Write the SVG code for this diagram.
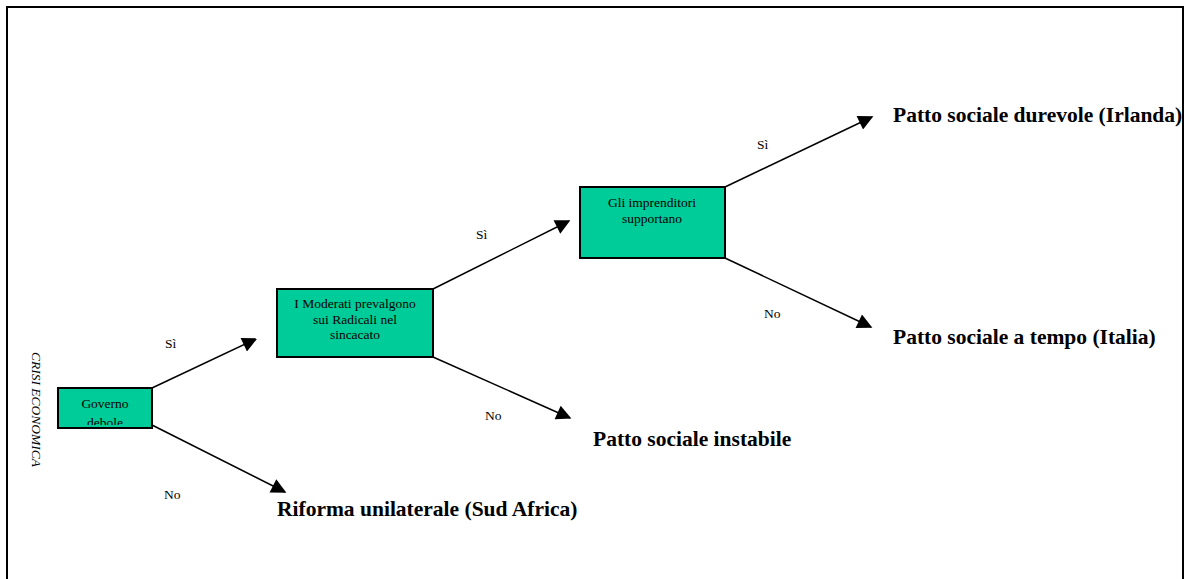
<svg xmlns="http://www.w3.org/2000/svg" width="1188" height="579" viewBox="0 0 1188 579">
<defs>
<style>
.box{fill:#00cc99;stroke:#000;stroke-width:2}
.t{font-family:"Liberation Serif",serif;font-size:13.5px;fill:#000}
.n{font-family:"Liberation Serif",serif;font-size:13.5px;fill:#000;text-anchor:middle}
.o{font-family:"Liberation Serif",serif;font-size:21.5px;font-weight:bold;fill:#000}
</style>
<marker id="ahb" viewBox="0 0 10 10" refX="9" refY="5" markerWidth="18" markerHeight="15" markerUnits="userSpaceOnUse" orient="auto">
<path d="M0,0 L10,5 L0,10 z" fill="#000"/>
</marker>
<clipPath id="cg"><rect x="58" y="388" width="94" height="37"/></clipPath>
</defs>
<rect x="0" y="0" width="1188" height="579" fill="#fff"/>
<path d="M7,590 L7,7 L1183,7 L1183,590" fill="none" stroke="#000" stroke-width="2"/>
<text class="t" font-style="italic" transform="translate(32,352) rotate(90)">CRISI ECONOMICA</text>
<g id="connectors">
<line x1="152" y1="388" x2="256" y2="339" stroke="#000" stroke-width="1.5" marker-end="url(#ahb)"/>
<line x1="152" y1="425" x2="285" y2="492" stroke="#000" stroke-width="1.5" marker-end="url(#ahb)"/>
<line x1="433" y1="289" x2="569" y2="221" stroke="#000" stroke-width="1.5" marker-end="url(#ahb)"/>
<line x1="433" y1="357" x2="570" y2="418" stroke="#000" stroke-width="1.5" marker-end="url(#ahb)"/>
<line x1="725" y1="187" x2="872" y2="117" stroke="#000" stroke-width="1.5" marker-end="url(#ahb)"/>
<line x1="725" y1="258" x2="871" y2="327" stroke="#000" stroke-width="1.5" marker-end="url(#ahb)"/>
<text class="t" x="165" y="348">Sì</text>
<text class="t" x="164" y="499">No</text>
<text class="t" x="476" y="239">Sì</text>
<text class="t" x="485" y="420">No</text>
<text class="t" x="757" y="149">Sì</text>
<text class="t" x="764" y="318">No</text>
</g>
<g id="governo">
<rect class="box" x="58" y="388" width="94" height="40"/>
<g clip-path="url(#cg)">
<text class="n" x="105" y="408">Governo</text>
<text class="n" x="105" y="427">debole</text>
</g>
</g>
<g id="moderati">
<rect class="box" x="277" y="289" width="156" height="68"/>
<text class="n" x="355" y="308">I Moderati prevalgono</text>
<text class="n" x="355" y="324">sui Radicali nel</text>
<text class="n" x="355" y="339">sincacato</text>
</g>
<g id="imprenditori">
<rect class="box" x="580" y="187" width="145" height="71"/>
<text class="n" x="652" y="207">Gli imprenditori</text>
<text class="n" x="652" y="223">supportano</text>
</g>
<g id="riforma"><text class="o" x="277" y="516">Riforma unilaterale (Sud Africa)</text></g>
<g id="instabile"><text class="o" x="593" y="446">Patto sociale instabile</text></g>
<g id="durevole"><text class="o" x="893" y="122">Patto sociale durevole (Irlanda)</text></g>
<g id="tempo"><text class="o" x="893" y="344">Patto sociale a tempo (Italia)</text></g>
</svg>
